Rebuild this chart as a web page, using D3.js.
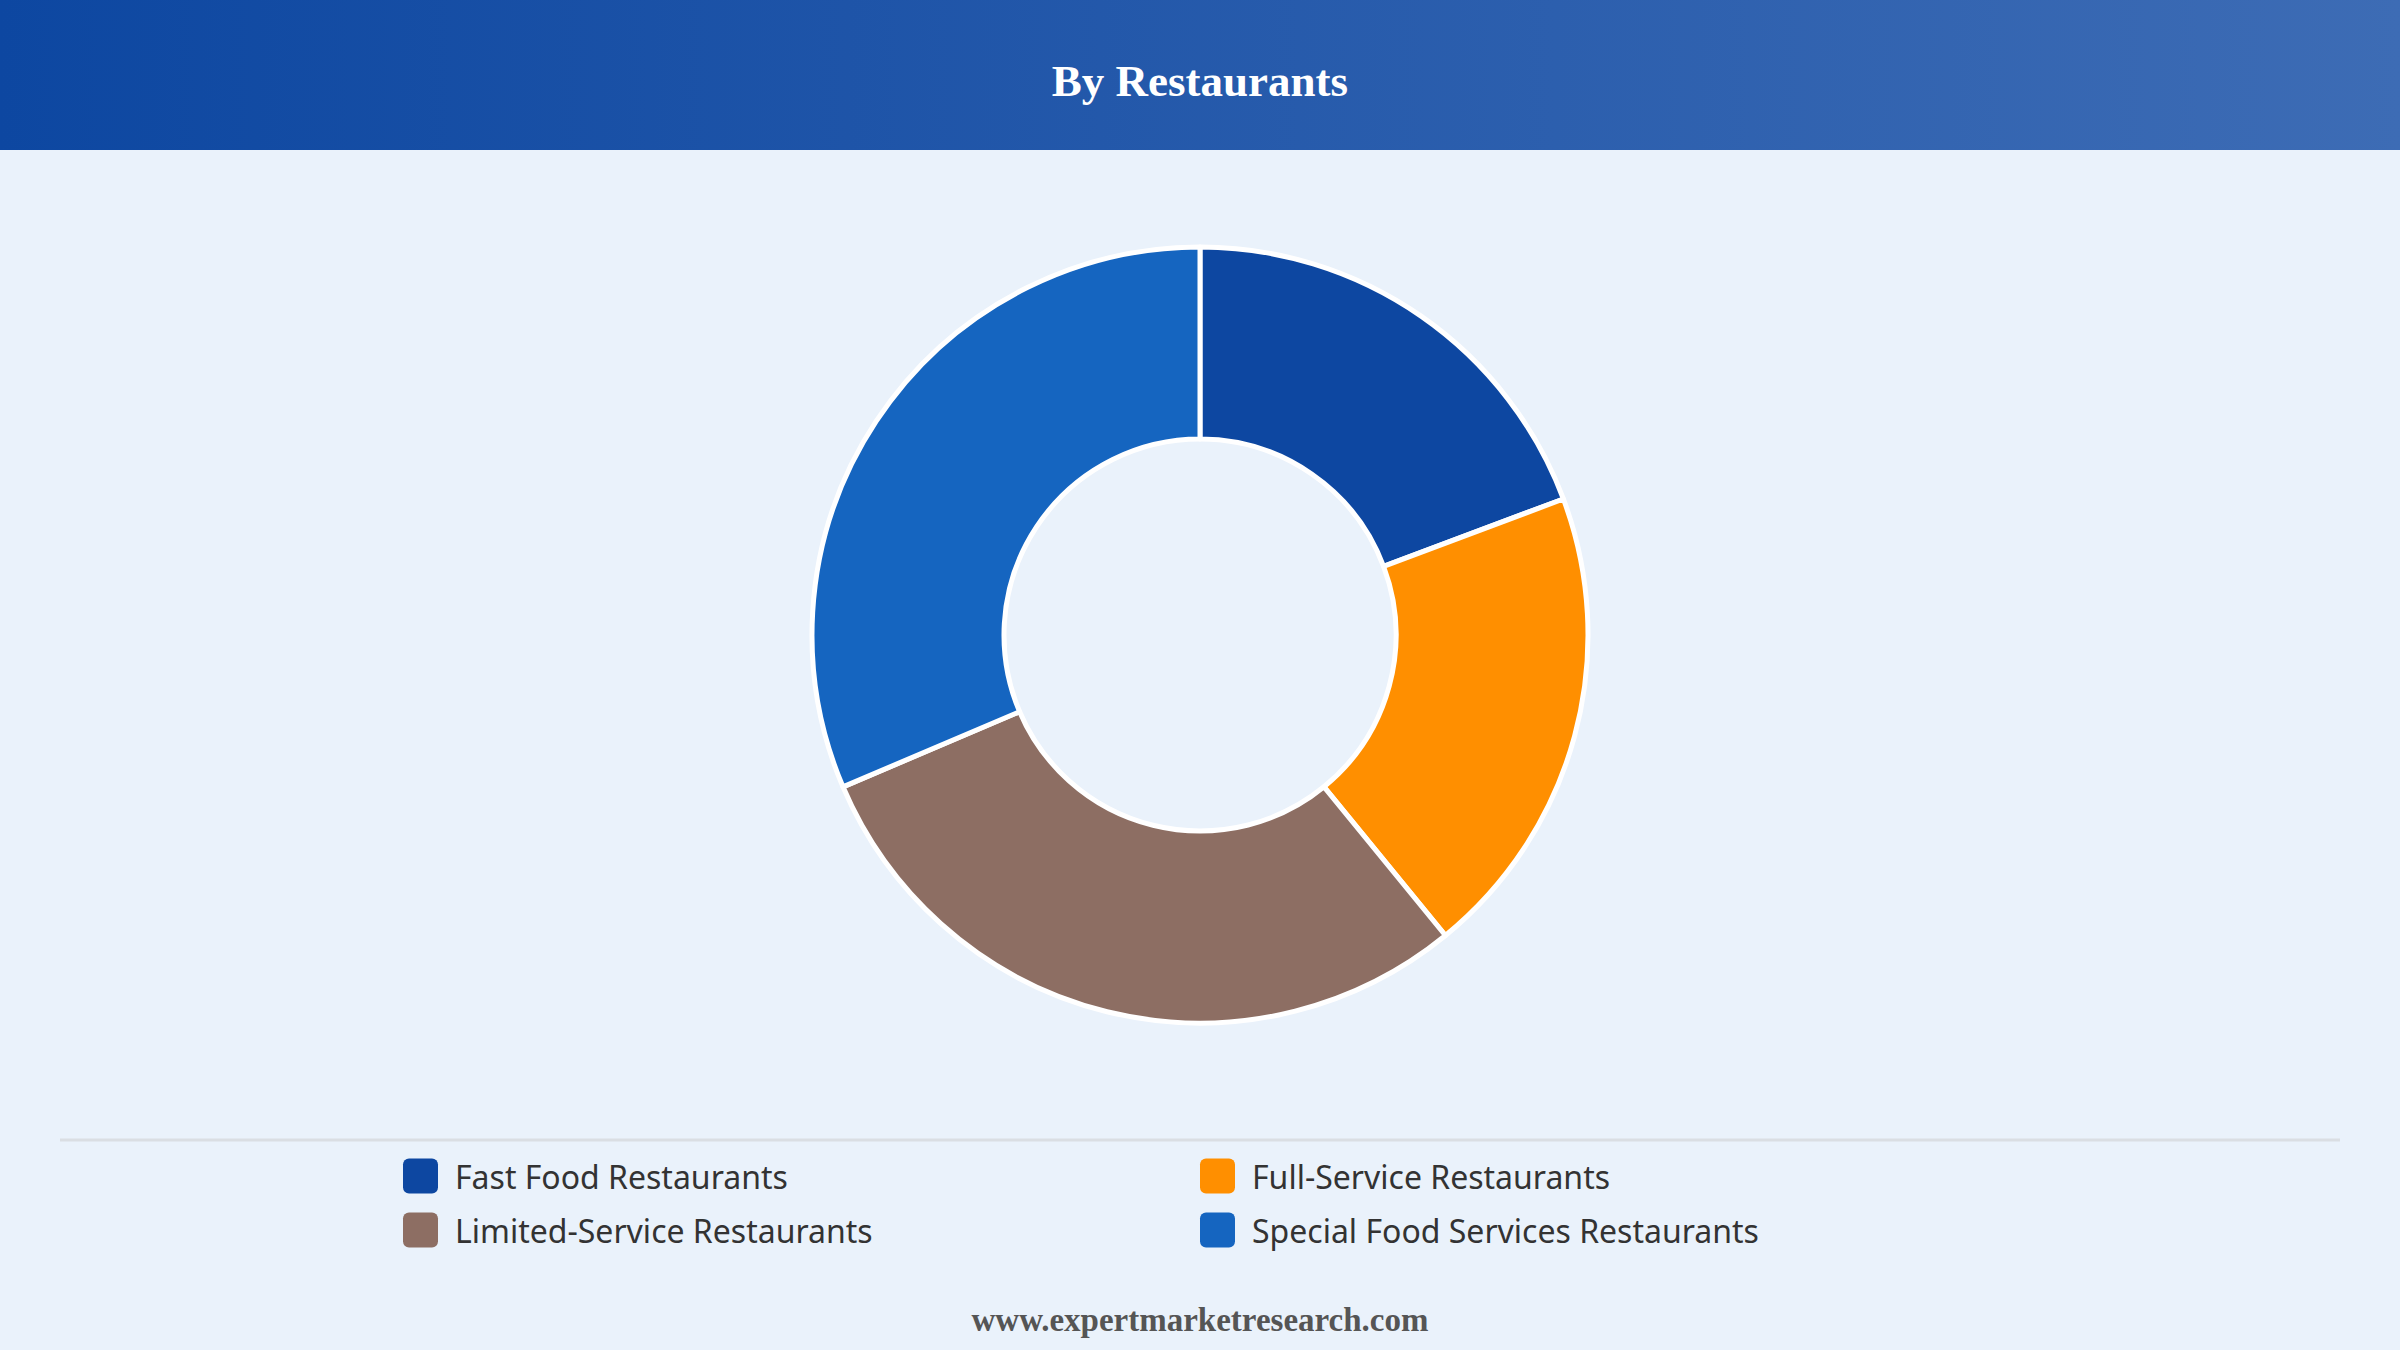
<!DOCTYPE html>
<html>
<head>
<meta charset="utf-8">
<script src="https://cdn.jsdelivr.net/npm/d3@7"></script>
<style>
  body { margin: 0; background: #eaf2fb; }
</style>
</head>
<body>
<div id="chart"></div>
<script>
// chart data
const categories = ["Fast Food Restaurants", "Full-Service Restaurants", "Limited-Service Restaurants", "Special Food Services Restaurants"];
const shares = [19.3, 19.8, 29.5, 31.4];
const colours = ["#0d47a1", "#ff8f00", "#8d6e63", "#1565c0"];

function plot() {
    const svgwidth = 2400;
    const svgheight = 1350;
    const header_h = 150;
    const cx = 1200, cy = 635;
    const outer_r = 388, inner_r = 196;

    let svg = d3.select("#chart").append("svg")
        .attr("width", svgwidth)
        .attr("height", svgheight);

    // header band with gradient
    let grad = svg.append("defs").append("linearGradient")
        .attr("id", "hdr")
        .attr("x1", "0%").attr("x2", "100%");
    grad.append("stop").attr("offset", "0%").attr("stop-color", "#0d47a1");
    grad.append("stop").attr("offset", "100%").attr("stop-color", "#3d6cb5");

    svg.append("rect")
        .attr("width", svgwidth)
        .attr("height", svgheight)
        .attr("fill", "#eaf2fb");
    svg.append("rect")
        .attr("width", svgwidth)
        .attr("height", header_h)
        .attr("fill", "url(#hdr)");
    svg.append("text") // title
        .text("By Restaurants")
        .attr("x", svgwidth/2)
        .attr("y", 81)
        .attr("text-anchor", "middle")
        .attr("dominant-baseline", "central")
        .style("font-family", "'Liberation Serif', 'Times New Roman', serif")
        .style("font-weight", "bold")
        .style("font-size", "45px")
        .style("fill", "white");

    // donut
    let data = categories.map((c, i) => ({cat: c, value: shares[i], colour: colours[i]}));
    let pie = d3.pie().sort(null).value(d => d.value);
    let arc = d3.arc().innerRadius(inner_r).outerRadius(outer_r);

    svg.append("g")
        .attr("transform", `translate(${cx},${cy})`)
        .selectAll("path")
        .data(pie(data))
        .enter().append("path")
        .attr("d", arc)
        .attr("fill", d => d.data.colour)
        .attr("stroke", "white")
        .attr("stroke-width", 5)
        .attr("stroke-linejoin", "round");

    // divider line above legend
    svg.append("line")
        .attr("x1", 60).attr("x2", 2340)
        .attr("y1", 1140).attr("y2", 1140)
        .attr("stroke", "#dadee3")
        .attr("stroke-width", 3);

    // legend, two columns
    const col_x = [403, 1200];
    const row_y = [1176, 1230];
    const sw = 35;
    let legend = svg.append("g").attr("class", "legend");
    let rows = legend.selectAll("g")
        .data(data)
        .enter().append("g")
        .attr("transform", (d, i) => `translate(${col_x[i % 2]},${row_y[Math.floor(i / 2)]})`);
    rows.append("rect")
        .attr("x", 0)
        .attr("y", -sw/2)
        .attr("width", sw)
        .attr("height", sw)
        .attr("rx", 6)
        .attr("fill", d => d.colour);
    rows.append("text")
        .text(d => d.cat)
        .attr("x", 52)
        .attr("y", 0)
        .attr("dominant-baseline", "central")
        .style("font-family", "'Noto Sans', 'Open Sans', sans-serif")
        .style("font-size", "32px")
        .style("fill", "#333");

    // footer source
    svg.append("text")
        .text("www.expertmarketresearch.com")
        .attr("x", svgwidth/2)
        .attr("y", 1320)
        .attr("text-anchor", "middle")
        .attr("dominant-baseline", "central")
        .style("font-family", "'Liberation Serif', 'Times New Roman', serif")
        .style("font-weight", "bold")
        .style("font-size", "33px")
        .style("fill", "#555");
}

plot();
</script>
</body>
</html>
